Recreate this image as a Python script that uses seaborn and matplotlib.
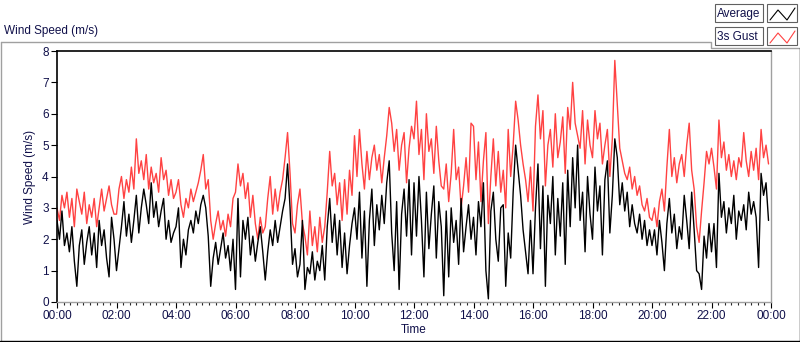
import numpy as np
import pandas as pd
import seaborn as sns
import matplotlib.pyplot as plt
from matplotlib.lines import Line2D
from matplotlib.patches import Rectangle
from matplotlib.ticker import MultipleLocator

# 5-minute samples, one row per hour (00:00 .. 23:55)
avg_speed = [
    2.6, 2.0, 2.9, 1.8, 2.2, 1.6, 2.4, 1.3, 0.5, 1.8, 2.3, 1.2,
    1.9, 2.4, 1.5, 2.2, 1.1, 2.6, 1.8, 2.3, 1.4, 0.8, 2.7, 2.0,
    1.0, 1.7, 2.4, 3.2, 2.1, 2.8, 1.9, 2.6, 3.4, 2.2, 3.0, 3.6,
    3.1, 2.5, 3.8, 2.7, 3.2, 2.4, 2.9, 3.3, 2.0, 2.6, 1.9, 2.2,
    2.4, 3.0, 1.1, 2.0, 1.5, 2.3, 2.6, 2.2, 2.9, 2.5, 3.1, 3.4,
    3.0, 2.1, 0.5, 1.4, 1.9, 1.2, 1.7, 2.2, 1.4, 1.8, 1.0, 2.0,
    0.4, 3.3, 0.8, 2.6, 2.0, 2.7, 1.5, 2.1, 1.3, 1.9, 2.4, 1.6,
    0.7, 1.6, 2.3, 1.8, 2.6, 1.9, 2.4, 2.9, 3.3, 4.4, 3.0, 1.2,
    1.7, 0.8, 1.2, 2.6, 0.4, 1.1, 0.9, 1.6, 0.7, 1.3, 1.0, 1.8,
    0.7, 2.4, 3.3, 1.9, 2.8, 1.5, 2.6, 1.1, 2.2, 0.9, 1.8, 2.5,
    3.0, 2.0, 3.5, 1.4, 2.9, 0.5, 2.6, 3.6, 1.8, 3.1, 2.3, 3.4,
    2.5, 3.8, 4.5, 2.2, 1.0, 3.2, 0.4, 2.8, 3.6, 2.1, 3.9, 1.5,
    3.8, 2.1, 4.0, 2.6, 0.8, 3.5, 1.7, 2.8, 3.7, 1.4, 3.2, 2.4,
    0.2, 2.9, 0.8, 3.0, 1.9, 2.6, 1.2, 3.3, 1.6, 2.4, 3.1, 2.0,
    2.7, 1.5, 3.2, 2.4, 3.8, 1.0, 0.1, 2.9, 3.5, 2.0, 1.3, 3.0,
    3.1, 0.5, 2.2, 1.4, 3.5, 5.0, 4.2, 3.4, 2.3, 1.6, 0.9, 2.6,
    0.9, 3.0, 4.4, 1.7, 3.7, 0.5, 3.4, 2.5, 4.0, 1.5, 3.3, 2.1,
    3.8, 1.2, 4.2, 2.4, 4.6, 3.0, 5.0, 2.6, 3.5, 1.6, 4.0, 2.8,
    2.0, 4.3, 2.9, 3.7, 1.5, 3.9, 4.5, 2.2, 3.4, 5.2, 4.6, 3.1,
    3.8, 2.9, 3.5, 2.4, 3.1, 2.5, 2.2, 2.8, 2.0, 2.6, 1.8, 2.3,
    1.8, 2.3, 1.5, 2.6, 1.9, 1.0, 2.5, 3.3, 2.2, 2.8, 1.7, 2.4,
    2.0, 3.4, 2.6, 1.7, 3.5, 2.3, 1.0, 0.9, 0.4, 2.1, 1.4, 2.5,
    1.6, 2.5, 1.1, 4.1, 2.7, 3.2, 2.2, 3.0, 2.5, 3.4, 2.0, 2.9,
    2.6, 3.1, 2.3, 3.5, 2.8, 3.2, 2.7, 1.1, 4.1, 3.4, 3.8, 2.6,
]
gust_speed = [
    3.0, 2.6, 3.4, 3.0, 3.5, 2.7, 3.3, 2.4, 3.6, 3.2, 2.8, 3.5,
    2.5, 3.1, 2.7, 3.3, 2.4, 3.0, 3.6, 2.9, 3.3, 3.7, 3.1, 2.8,
    2.8, 3.6, 4.0, 3.3, 3.9, 3.5, 4.3, 3.6, 5.2, 4.1, 4.5, 3.9,
    4.7, 3.6, 4.3, 3.8, 4.1, 3.5, 4.6, 3.9, 4.2, 3.4, 3.9, 3.3,
    3.5, 3.9, 3.1, 2.7, 3.3, 3.0, 3.6, 3.2, 3.5, 3.8, 4.2, 4.7,
    3.6, 3.9, 2.6, 2.0, 2.5, 2.9, 2.3, 2.6, 2.1, 2.8, 2.4, 3.3,
    3.5, 4.4, 3.7, 4.1, 3.3, 3.8, 2.7, 3.4, 2.5, 2.0, 2.7, 2.2,
    2.4, 3.3, 4.0, 2.8, 3.6, 2.9, 3.5, 3.9, 4.6, 5.4, 4.1, 2.5,
    2.2, 3.1, 3.6, 2.5, 2.1, 1.5, 2.9, 1.8, 2.4, 1.6, 2.7, 1.9,
    2.4, 3.5, 4.8, 3.7, 4.1, 3.1, 3.8, 2.6, 3.9, 2.8, 4.2, 3.4,
    5.3, 4.0, 5.5, 4.4, 3.6, 4.8, 3.9, 4.6, 5.0, 4.2, 4.7, 3.8,
    4.6, 5.3, 6.2, 5.7, 4.8, 5.5, 4.2, 5.0, 5.4, 3.8, 4.9, 5.6,
    5.2, 6.4, 4.7, 5.5, 3.9, 6.0, 4.8, 5.2, 4.1, 5.6, 4.5, 3.7,
    3.6, 4.4, 3.2, 4.1, 5.5, 3.9, 4.3, 3.0, 3.7, 4.6, 3.5, 5.7,
    5.6, 3.9, 5.1, 3.2, 4.5, 5.4, 2.5, 4.0, 5.2, 3.7, 4.8, 3.5,
    4.2, 3.0, 5.5, 4.0, 5.0, 6.4, 5.8, 5.0, 4.4, 3.9, 3.2, 4.3,
    2.9, 5.6, 6.6, 5.2, 6.1, 3.7, 5.0, 5.5, 4.3, 6.0, 4.6, 5.1,
    5.9, 4.1, 6.2, 5.5, 7.0, 5.7, 5.3, 4.9, 6.1, 4.4, 5.8, 5.0,
    4.6, 6.1, 5.2, 5.7, 4.4, 5.0, 5.5, 4.0, 5.2, 7.7, 6.3, 4.9,
    4.5, 4.1, 3.9, 4.3, 3.6, 4.0, 3.4, 3.7, 3.1, 2.9, 3.3, 2.7,
    2.6, 3.0, 2.4, 3.2, 3.6, 2.9, 4.3, 5.5, 4.0, 4.6, 3.8, 4.4,
    4.7, 4.0, 5.0, 5.7, 4.2, 3.6, 2.4, 1.9, 2.9, 3.8, 4.8, 4.4,
    4.9, 4.3, 3.6, 5.8, 4.6, 5.1, 4.2, 4.7, 4.0, 4.5, 3.9, 4.6,
    4.3, 5.4, 4.5, 4.0, 4.8, 4.2, 4.9, 3.9, 5.5, 4.6, 5.0, 4.4,
]
hour_ticks = [0, 2, 4, 6, 8, 10, 12, 14, 16, 18, 20, 22, 24]
hour_labels = ["00:00", "02:00", "04:00", "06:00", "08:00", "10:00", "12:00",
               "14:00", "16:00", "18:00", "20:00", "22:00", "00:00"]
speed_ticks = [0, 1, 2, 3, 4, 5, 6, 7, 8]

time_h = np.arange(len(avg_speed)) / 12.0
df = pd.DataFrame({"Time": time_h, "Average": avg_speed, "3s Gust": gust_speed})

sns.set_style("white")
plt.rcParams["font.family"] = ["Liberation Sans", "DejaVu Sans"]

W, H = 800, 342
fig = plt.figure(figsize=(8, 3.42), dpi=100)
ax = fig.add_axes([57 / W, 1 - 302 / H, (771 - 57) / W, (302 - 51) / H])

red = "#ff4242"
sns.lineplot(data=df, x="Time", y="3s Gust", ax=ax, color=red, lw=1.0)
sns.lineplot(data=df, x="Time", y="Average", ax=ax, color="black", lw=1.0)

ax.set_xlim(0, 24)
ax.set_ylim(0, 8)
ax.set_xticks(hour_ticks)
ax.set_xticklabels(hour_labels)
ax.xaxis.set_minor_locator(MultipleLocator(2 / 9))
ax.set_yticks(speed_ticks)
ax.tick_params(axis="both", which="major", direction="out", length=4, width=0.8,
               labelsize=8.5, colors="black", bottom=True, left=True, pad=2)
ax.tick_params(axis="x", which="minor", direction="out", length=2.5, width=0.8, bottom=True)
for lab in ax.get_xticklabels() + ax.get_yticklabels():
    lab.set_color("#10104a")
ax.set_xlabel("Time", fontsize=8.5, color="#10104a", labelpad=1)
ax.set_ylabel("Wind Speed (m/s)", fontsize=8.5, color="#10104a", labelpad=4)

ax.spines["top"].set_color("black")
ax.spines["left"].set_color("black")
ax.spines["top"].set_linewidth(1.2)
ax.spines["left"].set_linewidth(1.2)
ax.spines["right"].set_color("#a0a0a0")
ax.spines["bottom"].set_color("#a0a0a0")
ax.spines["right"].set_linewidth(1)
ax.spines["bottom"].set_linewidth(1)


def fx(x):
    return x / W


def fy(y):
    return 1 - y / H


# outer frame (raised look) and title strip
fig.add_artist(Line2D([fx(0.5), fx(0.5)], [fy(42), fy(341)], color="#a0a0a0", lw=1))
fig.add_artist(Line2D([fx(0.5), fx(711), fx(711), fx(800)],
                      [fy(42), fy(42), fy(48), fy(48)], color="#a0a0a0", lw=1))
fig.add_artist(Line2D([fx(0), fx(799.5)], [fy(340.5), fy(340.5)], color="black", lw=1))
fig.add_artist(Line2D([fx(799.5), fx(799.5)], [fy(48), fy(341)], color="black", lw=1))
fig.text(fx(4), fy(31), "Wind Speed (m/s)", fontsize=8.5, color="#10104a", va="center", ha="left")

# legend boxes
legend_items = [("Average", "black", 4), ("3s Gust", red, 27)]
for name, col, top in legend_items:
    fig.add_artist(Rectangle((fx(715), fy(top + 18)), fx(48), 18 / H, fill=True,
                             facecolor="white", edgecolor="#606060", lw=0.8))
    fig.text(fx(717), fy(top + 9.5), name, fontsize=8.5, color="#10104a", va="center", ha="left")
    fig.add_artist(Rectangle((fx(767), fy(top + 18)), fx(30), 18 / H, fill=True,
                             facecolor="white", edgecolor="#606060", lw=0.8))
    fig.add_artist(Line2D([fx(770), fx(778), fx(787), fx(795)],
                          [fy(top + 16), fy(top + 6), fy(top + 16), fy(top + 4)],
                          color=col, lw=0.8))

fig.savefig("out.png", dpi=100)
